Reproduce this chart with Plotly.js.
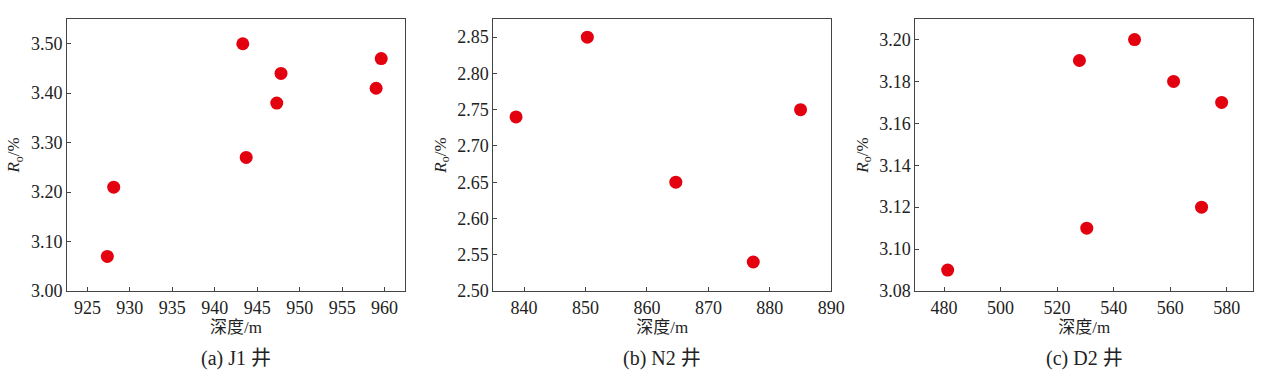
<!DOCTYPE html>
<html>
<head>
<meta charset="utf-8">
<script src="https://cdn.plot.ly/plotly-3.0.1.min.js"></script>
<style>html,body{margin:0;padding:0;background:#fff;}#chart{width:1269px;height:382px;}</style>
</head>
<body>
<div id="chart"></div>
<script>
// Panel (a) J1 well
const depthJ1 = [927.35, 928.1, 943.3, 943.7, 947.3, 947.8, 959.0, 959.6];
const roJ1    = [3.07, 3.21, 3.50, 3.27, 3.38, 3.44, 3.41, 3.47];
// Panel (b) N2 well
const depthN2 = [838.7, 850.3, 864.7, 877.3, 885.0];
const roN2    = [2.74, 2.85, 2.65, 2.54, 2.75];
// Panel (c) D2 well
const depthD2 = [481.3, 527.9, 530.5, 547.4, 561.2, 571.1, 578.2];
const roD2    = [3.09, 3.19, 3.11, 3.20, 3.18, 3.12, 3.17];

const captions = ["(a) J1 井", "(b) N2 井", "(c) D2 井"];
const xTitle = "深度/m";
const yTitle = "<i>R</i><sub>o</sub>/%";

const W = 1269, H = 382;
const FONT = "\"Liberation Serif\", \"Noto Sans CJK SC\", serif";
const red = "#e3000f";
const frame = "#444444";
const txt = "#222222";

function mk(x, y, xa, ya) {
  return {x: x, y: y, xaxis: xa, yaxis: ya, type: "scatter", mode: "markers",
    marker: {color: red, size: 13, line: {width: 0}}, showlegend: false, hoverinfo: "x+y"};
}

const data = [
  mk(depthJ1, roJ1, "x", "y"),
  mk(depthN2, roN2, "x2", "y2"),
  mk(depthD2, roD2, "x3", "y3")
];

const plotTop = 19, plotBottom = 291;
const yDom = [(H - plotBottom) / H, (H - plotTop) / H];
const panels = [[67, 405], [493.3, 831.3], [915.3, 1253.3]];

function xax(dom, range, dtick, anchor) {
  return {domain: [dom[0] / W, dom[1] / W], range: range, dtick: dtick, tick0: 0, anchor: anchor,
    ticks: "inside", ticklen: 4, tickcolor: frame, showline: true, linecolor: frame, linewidth: 1,
    mirror: true, showgrid: false, zeroline: false, automargin: false,
    tickfont: {family: FONT, size: 18, color: txt},
    title: {text: xTitle, standoff: 4, font: {family: FONT, size: 17, color: txt}}};
}
function yax(anchor, range, dtick, fmt, standoff) {
  return {domain: yDom, range: range, dtick: dtick, tick0: 0, anchor: anchor, tickformat: fmt,
    ticks: "inside", ticklen: 4, tickcolor: frame, showline: true, linecolor: frame, linewidth: 1,
    mirror: true, showgrid: false, zeroline: false, automargin: false,
    tickfont: {family: FONT, size: 18, color: txt},
    title: {text: yTitle, standoff: standoff, font: {family: FONT, size: 17, color: txt}}};
}

const annotations = [];
panels.forEach((p, i) => {
  const cx = (p[0] + p[1]) / 2 / W;
  annotations.push({xref: "paper", yref: "paper", x: cx, y: (H - 358) / H, text: captions[i],
    showarrow: false, xanchor: "center", yanchor: "middle", font: {family: FONT, size: 20, color: txt}});
});

const layout = {
  width: W, height: H, margin: {l: 0, r: 0, t: 0, b: 0},
  paper_bgcolor: "#fff", plot_bgcolor: "#fff",
  xaxis: xax(panels[0], [922.6, 962.4], 5, "y"),
  yaxis: yax("x", [3.0, 3.55], 0.1, ".2f", 6),
  xaxis2: xax(panels[1], [835, 890], 10, "y2"),
  yaxis2: yax("x2", [2.5, 2.875], 0.05, ".2f", 6),
  xaxis3: xax(panels[2], [469.85, 589.4], 20, "y3"),
  yaxis3: yax("x3", [3.08, 3.2098], 0.02, ".2f", 6),
  annotations: annotations
};

Plotly.newPlot("chart", data, layout, {displayModeBar: false, staticPlot: true});
</script>
</body>
</html>
